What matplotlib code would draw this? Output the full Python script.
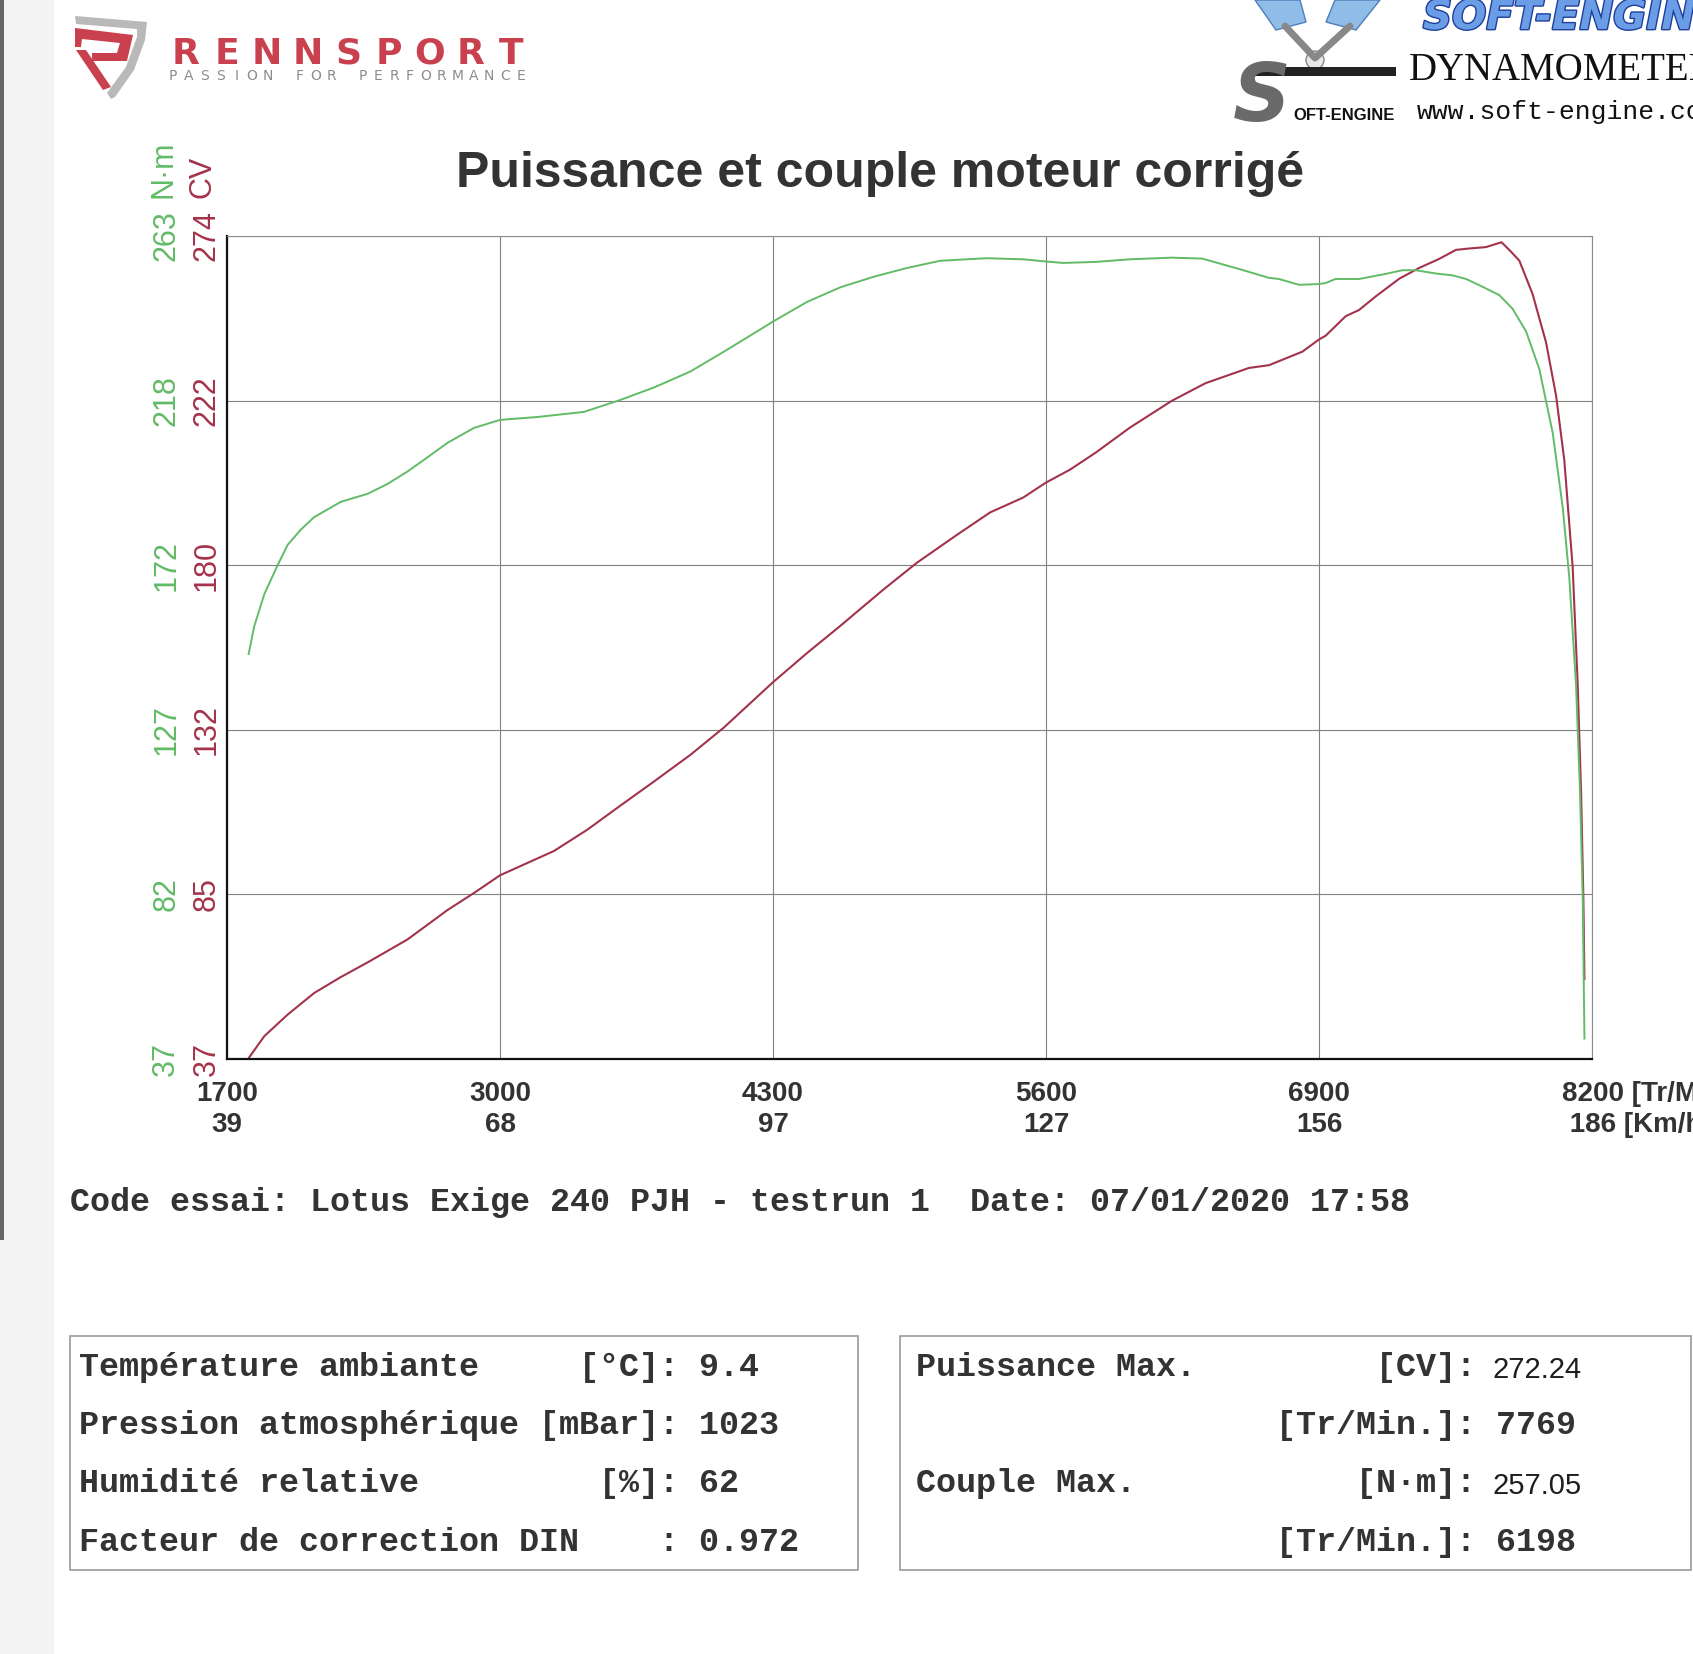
import numpy as np
import matplotlib
matplotlib.use("Agg")
import matplotlib.pyplot as plt
from matplotlib import font_manager
from matplotlib.patches import Polygon, Rectangle, Circle
import matplotlib.patheffects as pe

W, H = 1693, 1654

rpm_couple = [1803, 1830, 1878, 1941, 1989, 2052, 2115, 2242, 2369, 2464, 2559, 2654, 2750,
              2876, 3000, 3178, 3400, 3574, 3733, 3907, 4065, 4224, 4300, 4462, 4620, 4779,
              4937, 5096, 5318, 5492, 5600, 5682, 5841, 5999, 6198, 6344, 6534, 6662, 6709,
              6805, 6900, 6932, 6979, 7091, 7218, 7297, 7361, 7456, 7536, 7600, 7663, 7758,
              7822, 7886, 7949, 8013, 8061, 8092, 8124, 8143, 8156, 8164]
couple_nm = [148.2, 155.9, 164.7, 172.6, 178.2, 182.4, 185.8, 190.0, 192.2, 194.9, 198.3, 202.2,
             206.2, 210.3, 212.5, 213.3, 214.7, 218.0, 221.4, 225.8, 231.2, 236.8, 239.5, 244.9,
             248.9, 251.8, 254.2, 256.2, 256.9, 256.6, 256.0, 255.6, 255.9, 256.6, 257.05, 256.8,
             253.7, 251.5, 251.2, 249.6, 249.8, 250.1, 251.2, 251.2, 252.6, 253.6, 253.6, 252.7,
             252.2, 251.2, 249.5, 246.8, 243.0, 236.8, 226.5, 208.9, 188.3, 169.1, 139.7, 110.3,
             80.8, 42.6]
rpm_puiss = [1806, 1878, 1989, 2115, 2242, 2369, 2559, 2750, 2876, 3000, 3257, 3415, 3574, 3733,
             3907, 4065, 4300, 4462, 4620, 4826, 4985, 5175, 5334, 5492, 5600, 5714, 5841, 5999,
             6198, 6359, 6566, 6662, 6821, 6900, 6932, 7027, 7091, 7170, 7282, 7377, 7472, 7552,
             7615, 7695, 7769, 7806, 7854, 7917, 7981, 8029, 8068, 8108, 8132, 8148, 8159, 8164]
puiss_cv = [37.5, 43.6, 49.8, 56.0, 60.6, 64.8, 71.4, 79.9, 84.8, 89.9, 96.9, 103.0, 110.0, 116.9,
            124.6, 132.4, 145.5, 153.9, 161.7, 172.2, 179.9, 187.9, 194.4, 198.7, 203.0, 206.7,
            211.8, 218.8, 226.5, 231.6, 236.0, 236.8, 240.7, 244.2, 245.3, 250.9, 252.7, 256.6,
            261.7, 264.8, 267.4, 270.0, 270.4, 270.8, 272.2, 270.0, 266.9, 257.3, 243.4, 228.0,
            209.5, 178.6, 144.7, 113.8, 83.0, 60.0]

x_ticks = [1700, 3000, 4300, 5600, 6900, 8200]
kmh_labels = ["39", "68", "97", "127", "156", "186"]
cv_labels = ["37", "85", "132", "180", "222", "274"]
nm_labels = ["37", "82", "127", "172", "218", "263"]

titre = "Puissance et couple moteur corrigé"
code_essai = "Code essai: Lotus Exige 240 PJH - testrun 1  Date: 07/01/2020 17:58"
conditions = ["Température ambiante     [°C]: 9.4",
              "Pression atmosphérique [mBar]: 1023",
              "Humidité relative         [%]: 62",
              "Facteur de correction DIN    : 0.972"]
maxima = ["Puissance Max.         [CV]:",
          "                  [Tr/Min.]: 7769",
          "Couple Max.           [N·m]:",
          "                  [Tr/Min.]: 6198"]
maxima_val = ["272.24", "", "257.05", ""]

ROUGE, VERT, GRIS = "#a3334b", "#62bb66", "#333333"
names = {f.name for f in font_manager.fontManager.ttflist}
NARROW = "Liberation Sans Narrow" if "Liberation Sans Narrow" in names else "Liberation Sans"
TICK_FS = 24 if NARROW == "Liberation Sans Narrow" else 22

fig = plt.figure(figsize=(W / 100, H / 100), dpi=100)
bg = fig.add_axes([0, 0, 1, 1])
bg.set_xlim(0, W); bg.set_ylim(H, 0); bg.axis("off")

# bord du scan
bg.add_patch(Rectangle((0, 0), 54, H, color="#f3f3f3", lw=0))
bg.add_patch(Rectangle((0, 0), 4, 1240, color="#666666", lw=0))

# logo Rennsport
bg.add_patch(Polygon([(75, 16), (147, 22), (145, 40), (134, 70), (115, 97), (111, 99), (107, 93),
                      (126, 67), (137, 37), (137, 29), (76, 24)], color="#b9b9b9", lw=0))
bg.add_patch(Polygon([(75, 28), (133, 35), (127, 61), (92, 61), (92, 53), (117, 53), (120, 43),
                      (82, 39), (81, 47), (75, 47)], color="#c9404f", lw=0))
bg.add_patch(Polygon([(76, 50), (86, 50), (111, 87), (103, 90)], color="#c9404f", lw=0))
for i, ch in enumerate("RENNSPORT"):
    bg.text(186 + i * 40.6, 64, ch, fontsize=26, fontweight="bold", color="#c9404f",
            family="DejaVu Sans", ha="center", va="baseline")
for i, ch in enumerate("PASSION FOR PERFORMANCE"):
    bg.text(173 + i * 15.8, 80, ch, fontsize=10, color="#8c8c8c", family="DejaVu Sans",
            ha="center", va="baseline")

# logo Soft-Engine
bg.add_patch(Polygon([(1255, 0), (1300, 0), (1306, 22), (1276, 30)], fc="#8fbde8", ec="#4d7fb8", lw=1))
bg.add_patch(Polygon([(1335, 0), (1380, 0), (1356, 30), (1326, 22)], fc="#8fbde8", ec="#4d7fb8", lw=1))
bg.plot([1285, 1315, 1350], [26, 58, 26], color="#888888", lw=5, solid_capstyle="round")
bg.add_patch(Circle((1315, 60), 9, fc="#e8e8e8", ec="#888888", lw=1))
bg.add_patch(Rectangle((1254, 67), 142, 9, color="#222222", lw=0))
bg.text(1262, 121, "S", fontsize=58, fontweight="bold", fontstyle="italic", color="#6a6a6a",
        family="DejaVu Sans", ha="center", va="baseline")
bg.text(1293, 120, "OFT-ENGINE", fontsize=12, fontweight="bold", color="#111111",
        family=NARROW, va="baseline")
bg.text(1423, 29, "SOFT-ENGINE", fontsize=29, fontweight="bold", fontstyle="italic",
        color="#6a9de6", family="DejaVu Sans", va="baseline",
        path_effects=[pe.withStroke(linewidth=2, foreground="#1d3f9a")])
bg.text(1409, 80, "DYNAMOMETER", fontsize=28, color="#111111", family="Liberation Serif",
        va="baseline")
bg.text(1417, 119, "www.soft-engine.com", fontsize=19, color="#111111", family="Liberation Mono",
        va="baseline")

# titre et unités
bg.text(880, 187, titre, fontsize=36, fontweight="bold", color=GRIS, family="Liberation Sans",
        ha="center", va="baseline")
bg.text(164, 198, "N·m", rotation=90, fontsize=TICK_FS, color=VERT, family=NARROW,
        ha="center", va="bottom")
bg.text(203, 198, "CV", rotation=90, fontsize=TICK_FS, color=ROUGE, family=NARROW,
        ha="center", va="bottom")

# graphique
ax = fig.add_axes([227 / W, 1 - 1059 / H, (1592 - 227) / W, (1059 - 236) / H])
ax.set_xlim(1700, 8200); ax.set_ylim(37, 274)
ax.set_xticks(x_ticks)
ax.set_xticklabels([f"{r}\n{k}" for r, k in zip(x_ticks[:-1], kmh_labels[:-1])] + [""],
                   fontsize=20, fontweight="bold", color=GRIS, family="Liberation Sans",
                   linespacing=1.25)
ax.set_yticks(np.linspace(37, 274, 6))
ax.set_yticklabels(cv_labels, rotation=90, va="center", fontsize=TICK_FS, color=ROUGE, family=NARROW)
ax.tick_params(axis="both", length=0)
ax.tick_params(axis="x", pad=16)
ax.tick_params(axis="y", pad=4)
ax.grid(True, color="#808080", lw=0.8)
for s in ("left", "bottom"):
    ax.spines[s].set_color("#111111"); ax.spines[s].set_linewidth(1.6)
for s in ("top", "right"):
    ax.spines[s].set_color("#8a8a8a"); ax.spines[s].set_linewidth(0.8)
ax.plot(rpm_puiss, puiss_cv, color=ROUGE, lw=1.5)
ax.annotate(f"{x_ticks[-1]} [Tr/Min.]\n {kmh_labels[-1]} [Km/h]", xy=(x_ticks[-1], 0),
            xycoords=("data", "axes fraction"), xytext=(-21.5, -16), textcoords="offset points",
            ha="left", va="top", fontsize=20, fontweight="bold", color=GRIS,
            family="Liberation Sans", linespacing=1.25, annotation_clip=False)

ax2 = ax.twinx()
ax2.set_ylim(37, 263)
ax2.set_yticks(np.linspace(37, 263, 6))
ax2.yaxis.tick_left()
ax2.set_yticklabels(nm_labels, rotation=90, va="center", fontsize=TICK_FS, color=VERT, family=NARROW)
ax2.tick_params(axis="y", length=0, pad=33)
for s in ax2.spines.values():
    s.set_visible(False)
ax2.plot(rpm_couple, couple_nm, color=VERT, lw=1.4)

# textes du bas
mono = dict(family="Liberation Mono", fontweight="bold", fontsize=24, color=GRIS, va="baseline")
bg.text(70, 1211, code_essai, **mono)
bg.add_patch(Rectangle((70, 1336), 788, 234, fill=False, ec="#9a9a9a", lw=1.2))
bg.add_patch(Rectangle((900, 1336), 791, 234, fill=False, ec="#9a9a9a", lw=1.2))
rows_y = [1376, 1434, 1492, 1551]
for y, ligne in zip(rows_y, conditions):
    bg.text(79, y, ligne, **mono)
for y, ligne, val in zip(rows_y, maxima, maxima_val):
    bg.text(916, y, ligne, **mono)
    if val:
        bg.text(1492, y + 2, val, fontsize=21, color="#1e1e1e", family="Liberation Sans",
                va="baseline")

fig.savefig("out.png", dpi=100, facecolor="white")
